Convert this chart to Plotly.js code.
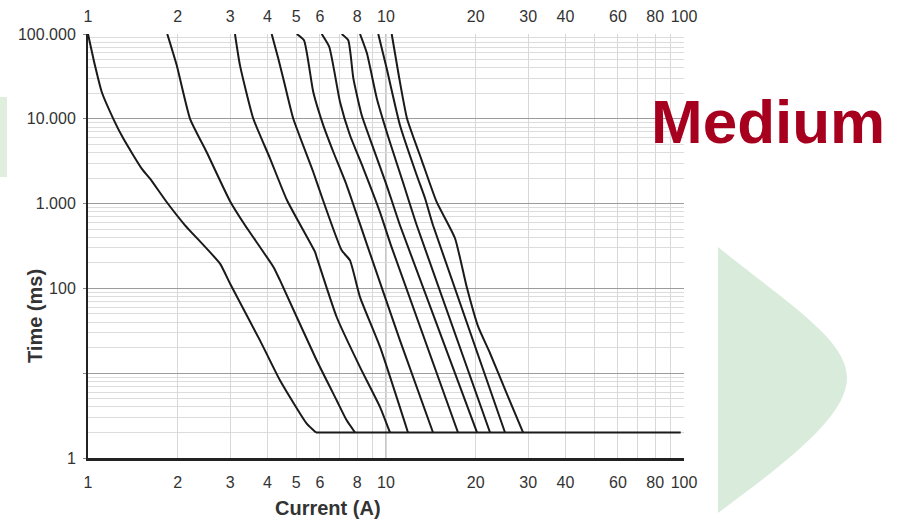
<!DOCTYPE html>
<html>
<head>
<meta charset="utf-8">
<script src="https://cdn.plot.ly/plotly-3.0.1.min.js"></script>
<style>html,body{margin:0;padding:0;background:#fff;}#chart{width:904px;height:522px;}</style>
</head>
<body>
<div id="chart"></div>
<script>
// ---- data (current in A, time in ms) ----
const c1I = [1.0, 1.055, 1.112, 1.216, 1.314, 1.514, 1.615, 1.836, 2.117, 2.773, 2.996, 3.776, 4.406, 5.42, 5.82];
const c1T = [100000, 42700, 20700, 10000, 5840, 2590, 1970, 1045, 555, 196, 114, 24.4, 8.25, 2.54, 2];
const c2I = [1.845, 1.985, 2.2, 2.5, 3.0, 3.365, 4.19, 4.406, 5.85, 6.83, 7.38, 7.87];
const c2T = [100000, 42700, 10000, 4060, 1060, 555, 179, 125, 14.2, 4.79, 2.78, 2];
const c3I = [3.113, 3.236, 3.588, 4.08, 4.654, 5.777, 5.853, 6.83, 8.18, 9.55, 10.31];
const c3T = [100000, 42700, 10000, 3420, 1094, 269, 234, 46, 11.8, 3.99, 2];
const c4I = [4.134, 4.35, 4.58, 4.886, 5.70, 6.147, 7.10, 7.57, 8.18, 9.55, 11.85];
const c4T = [100000, 51300, 24800, 10000, 2360, 1094, 281, 214, 79, 20.4, 2];
const c5I = [5.015, 5.306, 5.70, 6.16, 6.658, 7.38, 8.61, 11.14, 14.38];
const c5T = [100000, 84300, 20700, 8380, 4060, 1644, 338, 24.4, 2];
const c6I = [6.084, 6.452, 7.01, 7.57, 8.39, 9.55, 10.39, 17.44];
const c6T = [100000, 70300, 15800, 6390, 2610, 789, 322, 2];
const c7I = [7.10, 7.47, 7.77, 8.29, 9.07, 10.05, 11.14, 20.2];
const c7T = [100000, 84300, 30000, 11000, 4490, 1644, 555, 2];
const c8I = [8.18, 8.63, 9.31, 10.31, 11.40, 12.68, 22.34];
const c8T = [100000, 59200, 17500, 5280, 1783, 555, 2];
const c9I = [9.42, 10.05, 11.14, 12.68, 13.52, 14.38, 25.08];
const c9T = [100000, 39400, 8380, 2157, 1155, 555, 2];
const c10I = [10.45, 11.06, 11.77, 13.18, 14.79, 17.04, 18.66, 20.4, 22.34, 25.4, 28.83];
const c10T = [100000, 31100, 10000, 3240, 1045, 390, 104, 35.1, 17.2, 5.79, 2];
const floorI = [5.82, 97.5];
const floorT = [2, 2];

const xTickVals = [1, 2, 3, 4, 5, 6, 8, 10, 20, 30, 40, 60, 80, 100];
const xTickText = ['1', '2', '3', '4', '5', '6', '8', '10', '20', '30', '40', '60', '80', '100'];
const xMinorVals = [7, 9, 50, 70, 90];
const yTickVals = [1, 10, 100, 1000, 10000, 100000];
const yTickText = ['1', '', '100', '1.000', '10.000', '100.000'];
const yMinorVals = [];
[1, 10, 100, 1000, 10000].forEach(function (d) { for (let k = 2; k <= 9; k++) yMinorVals.push(k * d); });

const xTitle = 'Current (A)';
const yTitle = 'Time (ms)';
const badge = 'Medium';

// ---- styling ----
const W = 904, H = 522;
const M = {l: 88, r: 220, t: 34, b: 64};
const PW = W - M.l - M.r, PH = H - M.t - M.b;
function px(x) { return ((x - M.l) / PW).toFixed(4); }
function py(y) { return ((H - M.b - y) / PH).toFixed(4); }
const lineStyle = {color: '#1a1a1a', width: 2, shape: 'spline', smoothing: 0.5};
const floorStyle = {color: '#1a1a1a', width: 2};
const tickFont = {family: 'Liberation Sans, Arial, sans-serif', size: 16, color: '#333'};

const curves = [[c1I, c1T], [c2I, c2T], [c3I, c3T], [c4I, c4T], [c5I, c5T],
                [c6I, c6T], [c7I, c7T], [c8I, c8T], [c9I, c9T], [c10I, c10T]];
const traces = curves.map(function (c) {
  return {x: c[0], y: c[1], type: 'scatter', mode: 'lines', line: lineStyle, hoverinfo: 'skip', showlegend: false};
});
traces.push({x: floorI, y: floorT, type: 'scatter', mode: 'lines', line: floorStyle, xaxis: 'x2', yaxis: 'y', hoverinfo: 'skip', showlegend: false});

const arrowPath = 'M ' + px(718) + ',' + py(247) +
  ' C ' + px(790) + ',' + py(305) + ' ' + px(847) + ',' + py(340) + ' ' + px(847) + ',' + py(378) +
  ' C ' + px(847) + ',' + py(415) + ' ' + px(790) + ',' + py(460) + ' ' + px(718) + ',' + py(513) + ' Z';

const layout = {
  width: W, height: H,
  margin: M,
  paper_bgcolor: '#fff', plot_bgcolor: '#fff',
  showlegend: false,
  xaxis: {
    type: 'log', range: [0, 2], tickmode: 'array', tickvals: xTickVals, ticktext: xTickText,
    showgrid: true, gridcolor: '#d8d8d8', gridwidth: 1,
    minor: {tickvals: xMinorVals, showgrid: true, gridcolor: '#d8d8d8', ticks: ''},
    showline: true, linecolor: '#222', linewidth: 3, ticks: '', zeroline: false,
    tickfont: tickFont, ticklabelstandoff: 8, fixedrange: true
  },
  xaxis2: {
    type: 'log', range: [0, 2], overlaying: 'x', side: 'top', anchor: 'y',
    tickmode: 'array', tickvals: xTickVals, ticktext: xTickText,
    showgrid: false, showline: false, ticks: '', zeroline: false,
    tickfont: tickFont, ticklabelstandoff: 8, fixedrange: true
  },
  yaxis: {
    type: 'log', range: [0, 5], tickmode: 'array', tickvals: yTickVals, ticktext: yTickText,
    showgrid: true, gridcolor: '#9c9c9c', gridwidth: 1,
    minor: {tickvals: yMinorVals, showgrid: true, gridcolor: '#dcdcdc', ticks: ''},
    showline: true, linecolor: '#222', linewidth: 2,
    ticks: 'outside', ticklen: 3, tickcolor: '#888', zeroline: false,
    tickfont: tickFont, ticklabelstandoff: 4, fixedrange: true
  },
  shapes: [
    {type: 'line', xref: 'x', yref: 'paper', x0: 10, x1: 10, y0: 0, y1: 1, layer: 'between',
     line: {color: '#8e8e8e', width: 1}},
    {type: 'rect', xref: 'paper', yref: 'paper', x0: px(0), x1: px(7), y0: py(177), y1: py(97),
     fillcolor: '#dfeedd', line: {width: 0}, layer: 'below'},
    {type: 'path', xref: 'paper', yref: 'paper', path: arrowPath,
     fillcolor: '#d9ebda', line: {width: 0}, layer: 'below'}
  ],
  annotations: [
    {text: yTitle, xref: 'paper', yref: 'paper', x: px(35), y: py(316), textangle: -90,
     xanchor: 'center', yanchor: 'middle', showarrow: false,
     font: {family: 'Liberation Sans, Arial, sans-serif', size: 20, weight: 'bold', color: '#333'}},
    {text: xTitle, xref: 'paper', yref: 'paper', x: px(328), y: py(508),
     xanchor: 'center', yanchor: 'middle', showarrow: false,
     font: {family: 'Liberation Sans, Arial, sans-serif', size: 20, weight: 'bold', color: '#333'}},
    {text: badge, xref: 'paper', yref: 'paper', x: px(768), y: py(122),
     xanchor: 'center', yanchor: 'middle', showarrow: false,
     font: {family: 'Liberation Sans, Arial, sans-serif', size: 62, weight: 'bold', color: '#a6001e'}}
  ]
};

Plotly.newPlot('chart', traces, layout, {displayModeBar: false, staticPlot: true});
</script>
</body>
</html>
